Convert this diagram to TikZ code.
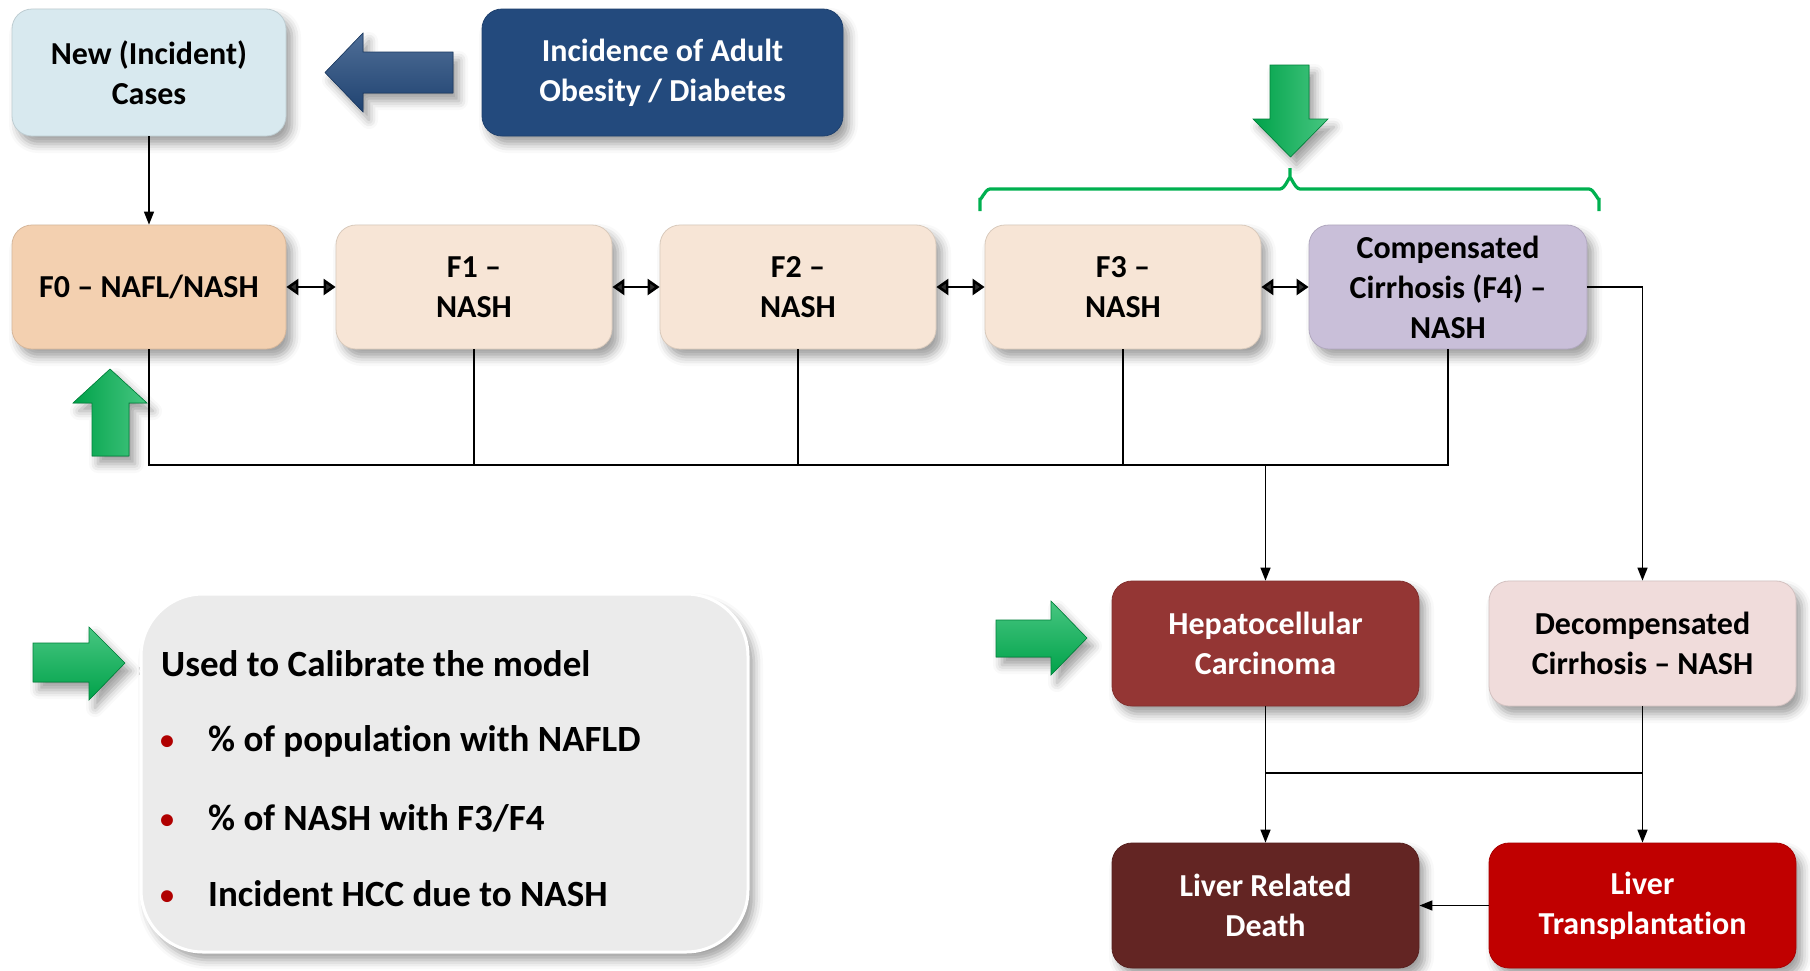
\documentclass[tikz,border=0pt]{standalone}
\usepackage{fontspec}
\setmainfont{Carlito}[Ligatures={TeX,NoCommon}]
\usetikzlibrary{arrows.meta,shadows,shadows.blur}
\definecolor{newcF}{HTML}{D8E9EF}
\definecolor{incF}{HTML}{234A7D}
\definecolor{fzF}{HTML}{F3D0B0}
\definecolor{fF}{HTML}{F7E5D6}
\definecolor{ffF}{HTML}{C9BFD9}
\definecolor{hccF}{HTML}{943634}
\definecolor{decF}{HTML}{F0DCDB}
\definecolor{lrdF}{HTML}{632523}
\definecolor{ltF}{HTML}{C00000}
\definecolor{calF}{HTML}{EBEBEB}
\definecolor{grn}{HTML}{00B050}
\definecolor{bul}{HTML}{B00000}
\newcommand{\boxfont}{\fontsize{32}{40}\selectfont\bfseries}
\newcommand{\calfont}{\fontsize{37}{44}\selectfont\bfseries}
\newcommand{\bulfont}{\fontsize{28}{30}\selectfont\bfseries}
\tikzset{
  sh/.style={blur shadow={shadow xshift=6pt, shadow yshift=-8pt, shadow blur radius=9pt, shadow opacity=38}},
  stbox/.style={sh, rounded corners=20pt, minimum width=276pt, minimum height=125pt,
    align=center, font=\boxfont, inner sep=0pt, fill=#1, draw=#1!88!black, line width=0.8pt},
  conn/.style={line width=1.4pt, draw=black},
  arr/.style={conn, -{Triangle[length=13pt,width=10pt]}},
  dbl/.style={line width=2.6pt, {Triangle[length=12pt,width=16pt]}-{Triangle[length=12pt,width=16pt]}},
  varrow/.style={sh, left color=grn!92!black, right color=grn!72!white, draw=grn!75!black, line width=0.6pt},
  harrow/.style={sh, top color=grn!72!white, bottom color=grn!92!black, draw=grn!75!black, line width=0.6pt},
  barrow/.style={sh, top color=incF!80!white, bottom color=incF!90!black, draw=incF!80!black, line width=0.6pt},
  caltext/.style={anchor=west, font=\calfont, inner sep=0pt},
  bullet/.style={anchor=base, font=\bulfont, text=bul, inner sep=0pt},
}
\begin{document}
\begin{tikzpicture}[x=1pt,y=-1pt]
\useasboundingbox (0,0) rectangle (1810,970);
% boxes
\node[stbox=newcF, minimum width=274pt, minimum height=127pt] (newc) at (149,72.5) {New (Incident)\\Cases};
\node[stbox=incF, text=white, minimum width=361pt, minimum height=127pt] (inc) at (662.5,72.5) {Incidence of Adult\\Obesity / Diabetes};
\node[stbox=fzF, minimum width=274pt, minimum height=124pt] (f0) at (149,287) {F0 – NAFL/NASH};
\node[stbox=fF, minimum height=124pt] (f1) at (474,287) {F1 –\\NASH};
\node[stbox=fF, minimum height=124pt] (f2) at (798,287) {F2 –\\NASH};
\node[stbox=fF, minimum height=124pt] (f3) at (1123,287) {F3 –\\NASH};
\node[stbox=ffF, minimum width=278pt, minimum height=124pt] (f4) at (1448,287) {Compensated\\Cirrhosis (F4) –\\NASH};
\node[stbox=hccF, text=white, minimum width=307pt] (hcc) at (1265.5,643.5) {Hepatocellular\\Carcinoma};
\node[stbox=decF, minimum width=307pt] (dec) at (1642.5,643.5) {Decompensated\\Cirrhosis – NASH};
\node[stbox=lrdF, text=white, minimum width=307pt] (lrd) at (1265.5,905.5) {Liver Related\\Death};
\node[stbox=ltF, text=white, minimum width=307pt] (lt) at (1642.5,905.5) {Liver\\Transplantation};
% calibration box
\node[sh, rounded corners=62pt, fill=calF, draw=white, line width=3pt, minimum width=607pt, minimum height=358pt] (cal) at (444.5,773) {};
\coordinate (bx) at (167,0);
\node[caltext] (c0) at (161,664) {Used to Calibrate the model};
\node[caltext] (c1) at (208,741) {\% of population with NAFLD};
\node[caltext] (c2) at (208,818) {\% of NASH with F3/F4};
\node[caltext] (c3) at (208,894) {Incident HCC due to NASH};
\node[bullet] (b1) at ([yshift=2pt]c1.base -| bx) {•};
\node[bullet] (b2) at ([yshift=2pt]c2.base -| bx) {•};
\node[bullet] (b3) at ([yshift=2pt]c3.base -| bx) {•};
% block arrows
\fill[barrow] (325,72.5) -- (363,33) -- (363,52) -- (453,52) -- (453,93) -- (363,93) -- (363,112) -- cycle;
\fill[varrow] (110,369) -- (147,403) -- (129,403) -- (129,456) -- (92,456) -- (92,403) -- (73,403) -- cycle;
\fill[varrow] (1290.5,157) -- (1328,119) -- (1309,119) -- (1309,65) -- (1270,65) -- (1270,119) -- (1253,119) -- cycle;
\fill[harrow] (1087,638) -- (1051,601) -- (1051,620) -- (996,620) -- (996,657) -- (1051,657) -- (1051,675) -- cycle;
\fill[harrow] (125,663) -- (89,627) -- (89,643) -- (33,643) -- (33,682) -- (89,682) -- (89,700) -- cycle;
% brace
\draw[grn, line width=3.2pt] (980,211) -- (980,198) to[out=-90,in=180] (990,189) -- (1280,189) to[out=0,in=90] (1290,179) -- (1290,168)
  (1290,179) to[out=90,in=180] (1300,189) -- (1589,189) to[out=0,in=-90] (1599,198) -- (1599,211);
% connectors
\draw[arr] (newc.south) -- (f0.north);
\draw[dbl] (f0.east) -- (f1.west);
\draw[dbl] (f1.east) -- (f2.west);
\draw[dbl] (f2.east) -- (f3.west);
\draw[dbl] (f3.east) -- (f4.west);
\coordinate (busL) at (149,465);
\coordinate (busR) at (1448,465);
\coordinate (busM) at (1265.5,465);
\draw[conn] (f0.south) -- (busL) -- (busR) -- (f4.south);
\draw[conn] (f1.south) -- (f1.south |- busL);
\draw[conn] (f2.south) -- (f2.south |- busL);
\draw[conn] (f3.south) -- (f3.south |- busL);
\draw[arr] (busM) -- (hcc.north);
\draw[arr] (f4.east) -| (dec.north);
\coordinate (lowL) at (1265.5,773);
\coordinate (lowR) at (1642.5,773);
\draw[arr] (hcc.south) -- (lrd.north);
\draw[arr] (dec.south) -- (lt.north);
\draw[conn] (lowL) -- (lowR);
\draw[arr] (lt.west) -- (lrd.east);
\end{tikzpicture}
\end{document}
